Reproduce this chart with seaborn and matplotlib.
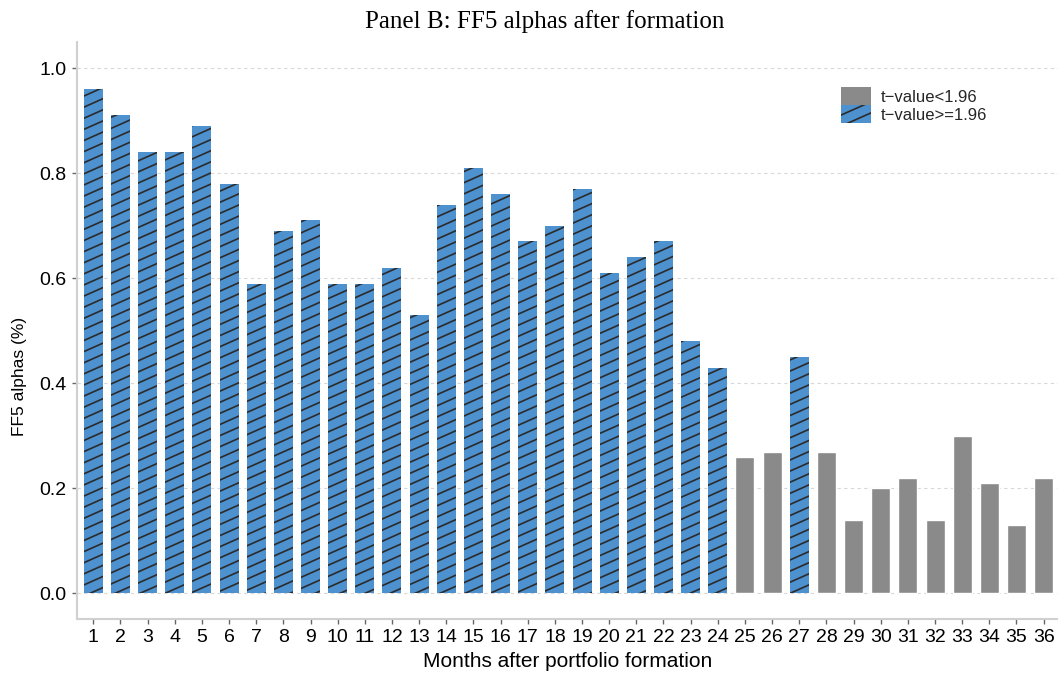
import warnings
import matplotlib
matplotlib.use("Agg")
import matplotlib.pyplot as plt
from matplotlib import hatch as mhatch
from matplotlib.patches import Patch
import seaborn as sns
import pandas as pd
import numpy as np

warnings.filterwarnings("ignore")

# Data
months = list(range(1, 37))
alphas = [0.96, 0.91, 0.84, 0.84, 0.89, 0.78, 0.59, 0.69, 0.71, 0.59,
          0.59, 0.62, 0.53, 0.74, 0.81, 0.76, 0.67, 0.70, 0.77, 0.61,
          0.64, 0.67, 0.48, 0.43, 0.26, 0.27, 0.45, 0.27, 0.14, 0.20,
          0.22, 0.14, 0.30, 0.21, 0.13, 0.22]
significant = [True] * 24 + [False, False, True] + [False] * 9
labels = ["t\u2212value<1.96", "t\u2212value>=1.96"]

blue = "#4d91cf"
grey = "#8a8a8a"
hatch_col = "#2b2b2b"


class ShallowHatch(mhatch.HatchPatternBase):
    """Shallow diagonal lines (about 24 degrees), coded with 's'."""
    lines_per_cell = 9
    rise = 4

    def __init__(self, hatch, density):
        n = self.lines_per_cell * hatch.count('s')
        self.n = n
        self.num_lines = (n + self.rise * hatch.count('s') + 1) if n else 0
        self.num_vertices = self.num_lines * 2

    def set_vertices_and_codes(self, vertices, codes):
        n = self.n
        rise = self.rise * (n // self.lines_per_cell)
        k = np.arange(-rise, n + 1)
        vertices[0::2, 0] = 0.0
        vertices[0::2, 1] = k / n
        vertices[1::2, 0] = 1.0
        vertices[1::2, 1] = (k + rise) / n
        codes[0::2] = matplotlib.path.Path.MOVETO
        codes[1::2] = matplotlib.path.Path.LINETO


mhatch._hatch_types.append(ShallowHatch)

df = pd.DataFrame({
    "month": [str(m) for m in months],
    "alpha": alphas,
    "sig": [labels[1] if s else labels[0] for s in significant],
})

sns.set_style("white")
plt.rcParams["font.family"] = ["Liberation Sans", "DejaVu Sans"]
plt.rcParams["hatch.linewidth"] = 1.2
plt.rcParams["hatch.color"] = hatch_col

fig, ax = plt.subplots(figsize=(10.58, 6.76), dpi=100)
sns.barplot(data=df, x="month", y="alpha", hue="sig",
            hue_order=labels, palette={labels[0]: grey, labels[1]: blue},
            dodge=False, width=0.7, saturation=1, ax=ax, legend=False)

for bar in ax.patches:
    r, g, b, _ = bar.get_facecolor()
    if b > r + 0.2:
        bar.set_hatch("s")
        bar.set_edgecolor(hatch_col)
        bar.set_linewidth(0)

ax.set_xlim(-0.6, 35.53)
ax.set_ylim(-0.049, 1.05)
ax.set_yticks([0.0, 0.2, 0.4, 0.6, 0.8, 1.0])
ax.set_yticklabels(["0.0", "0.2", "0.4", "0.6", "0.8", "1.0"])
ax.yaxis.grid(True, linestyle=(0, (3, 3)), color="#d8d8d8", linewidth=0.8)
ax.set_axisbelow(True)

sns.despine(ax=ax, top=True, right=True)
for side in ["left", "bottom"]:
    ax.spines[side].set_color("#d0d0d0")
    ax.spines[side].set_linewidth(1.5)
ax.tick_params(axis="both", direction="out", length=3.5, width=1,
               color="#666666", labelcolor="black", labelsize=14,
               bottom=True, left=True, pad=4)

ax.set_xlabel("Months after portfolio formation", fontsize=15, color="black")
ax.set_ylabel("FF5 alphas (%)", fontsize=12.5, color="black")
ax.yaxis.set_label_coords(-0.051, 0.42)
ax.set_title("Panel B: FF5 alphas after formation",
             family=["Liberation Serif", "DejaVu Serif"], fontsize=18,
             color="black", pad=10, x=0.477)

handles = [Patch(facecolor=grey, edgecolor="none"),
           Patch(facecolor=blue, edgecolor=hatch_col, hatch="s", linewidth=0)]
ax.legend(handles, labels, loc="upper left", bbox_to_anchor=(0.779, 0.922),
          frameon=False, fontsize=12, handlelength=1.8, handleheight=1.3,
          handletextpad=0.6, labelspacing=0.0, borderpad=0, borderaxespad=0)

fig.subplots_adjust(left=0.0728, right=1.0, top=0.9379, bottom=0.0843)
fig.savefig("out.png", dpi=100)
